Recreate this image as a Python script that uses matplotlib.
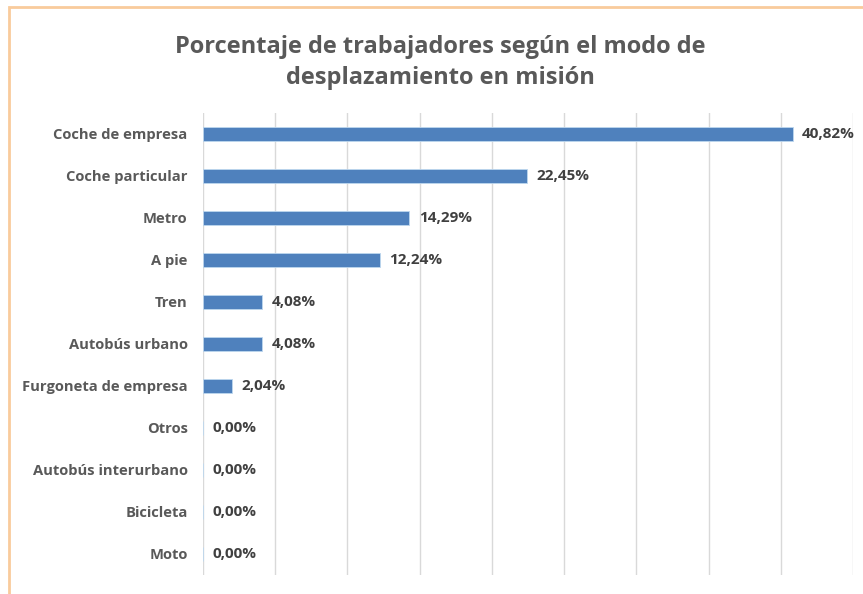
import matplotlib.pyplot as plt
from matplotlib.patches import Rectangle

categories = ["Coche de empresa", "Coche particular", "Metro", "A pie", "Tren",
              "Autobús urbano", "Furgoneta de empresa", "Otros",
              "Autobús interurbano", "Bicicleta", "Moto"]
values = [40.82, 22.45, 14.29, 12.24, 4.08, 4.08, 2.04, 0.0, 0.0, 0.0, 0.0]
labels = ["40,82%", "22,45%", "14,29%", "12,24%", "4,08%", "4,08%", "2,04%",
          "0,00%", "0,00%", "0,00%", "0,00%"]

plt.rcParams['font.family'] = ['Open Sans', 'DejaVu Sans']

fig = plt.figure(figsize=(8.63, 5.94), dpi=100)
ax = fig.add_axes([0.2352, 0.032, 0.7532, 0.7778])

pos = list(range(len(categories)))
ax.barh(pos, values, height=0.33, color="#4F81BD", edgecolor="#BDD7EE", linewidth=0.6, zorder=3)
for p, v, t in zip(pos, values, labels):
    ax.text(v + 0.65, p, t, va="center", ha="left", fontsize=11, fontweight="bold", color="#404040")

ax.set_ylim(len(categories) - 0.5, -0.5)
ax.set_xlim(0, 45)
ax.set_xticks(range(0, 46, 5))
ax.set_xticklabels([])
ax.tick_params(axis="x", length=0)
ax.tick_params(axis="y", length=0, pad=11)
ax.set_yticks(pos)
ax.set_yticklabels(categories, fontsize=10.6, fontweight="bold", color="#595959")
ax.grid(axis="x", color="#D9D9D9", linewidth=1, zorder=0)
for s in ax.spines.values():
    s.set_visible(False)

fig.text(0.51, 0.895, "Porcentaje de trabajadores según el modo de\ndesplazamiento en misión",
         ha="center", va="center", fontsize=17, fontweight="bold", color="#595959",
         linespacing=1.35)

# orange frame, cut off at right and bottom
fig.patches.append(Rectangle((9 / 863, -0.05), 1.2, 1 - 7 / 594 + 0.05, transform=fig.transFigure,
                             fill=False, edgecolor="#F9CB9C", linewidth=2))

fig.savefig("out.png")
